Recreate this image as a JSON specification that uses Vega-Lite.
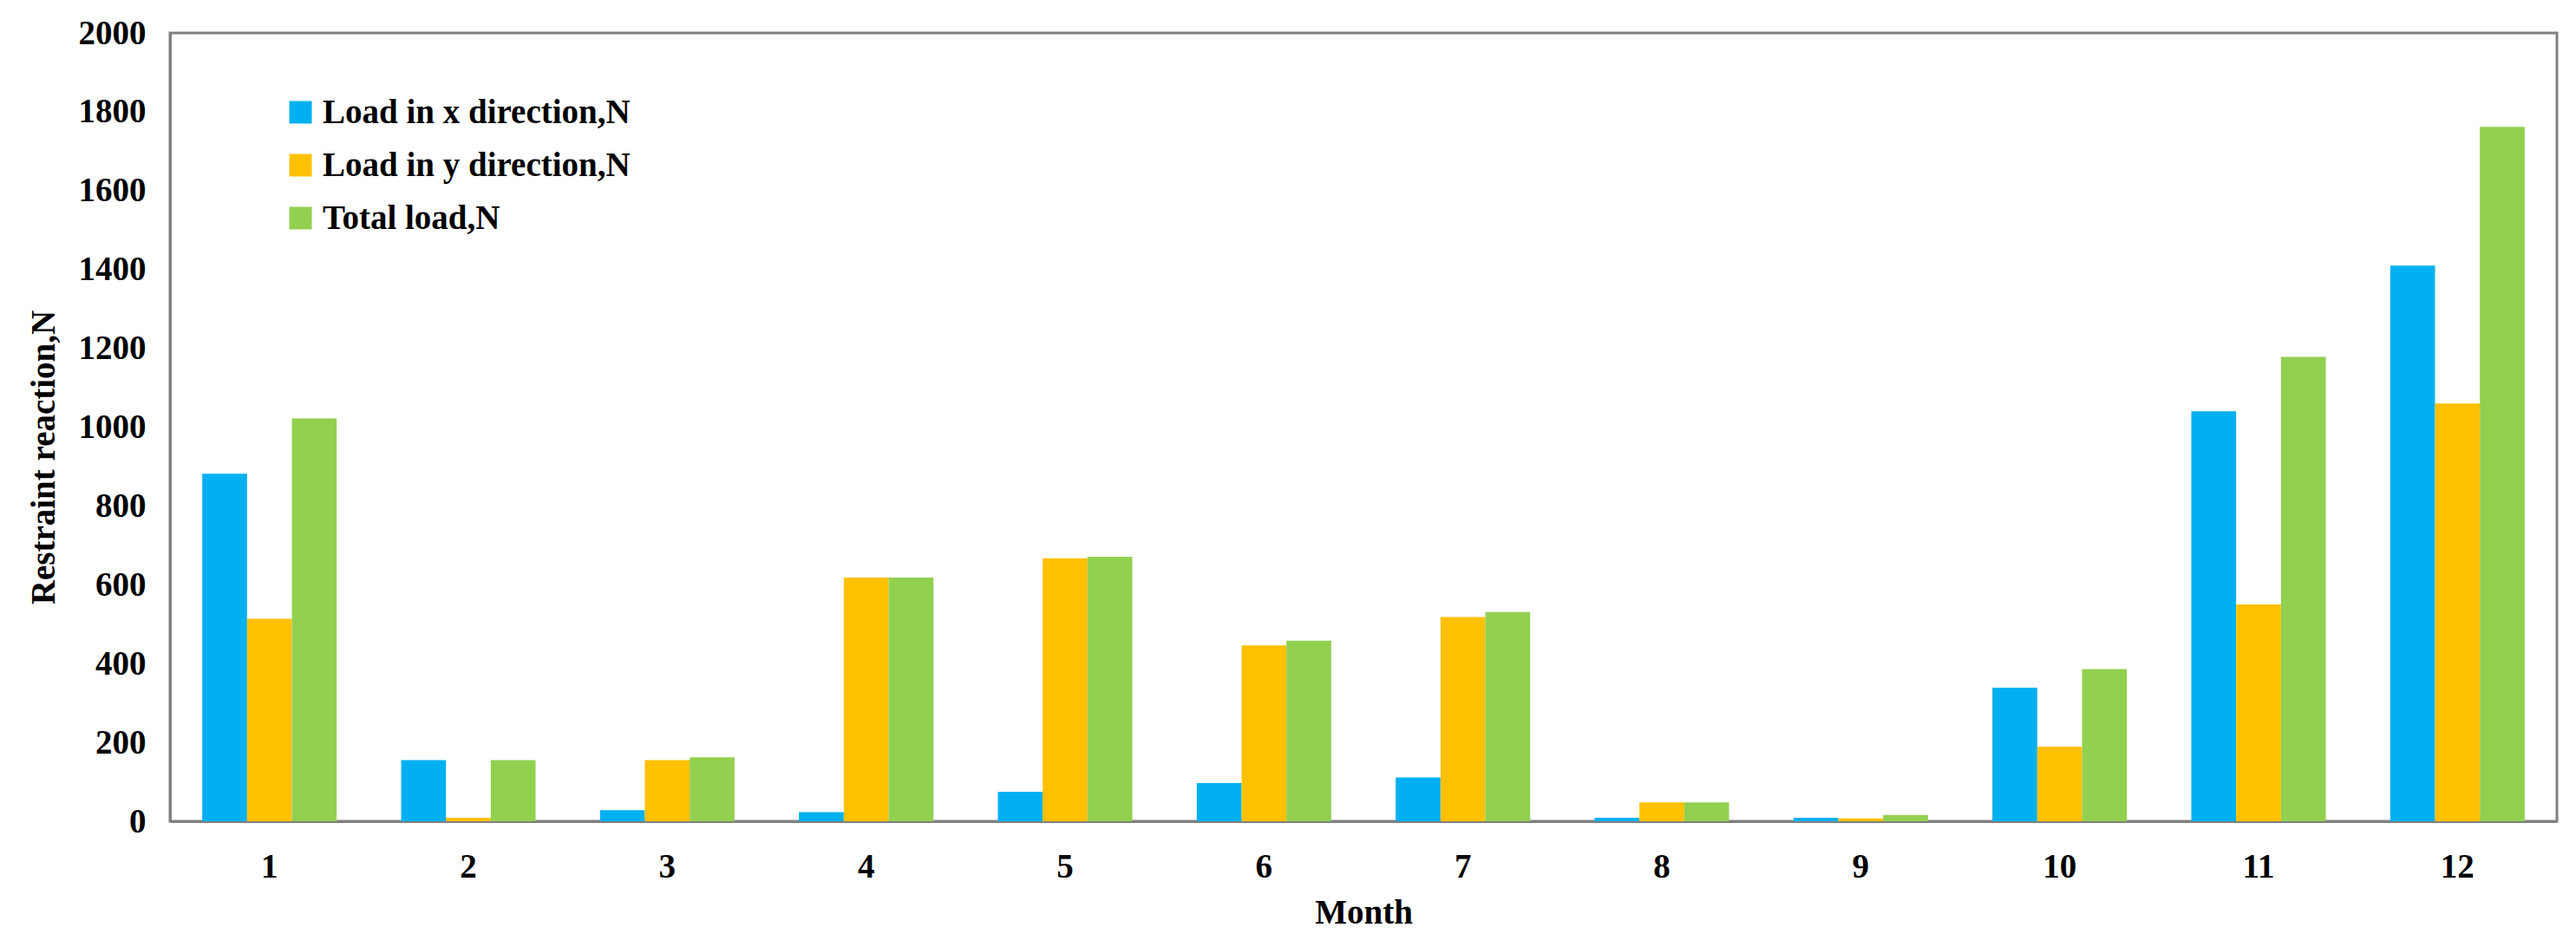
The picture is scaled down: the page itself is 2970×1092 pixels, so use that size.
{
  "$schema": "https://vega.github.io/schema/vega-lite/v6.json",
  "width": 2752,
  "height": 909,
  "autosize": {"type": "none"},
  "padding": {"left": 196, "top": 38, "right": 22, "bottom": 145},
  "background": "white",
  "config": {
    "font": "Liberation Serif",
    "view": {"stroke": "#808080", "strokeWidth": 3},
    "axis": {"grid": false, "ticks": false, "domainColor": "#808080", "domainWidth": 3,
      "labelFont": "Liberation Serif", "labelFontWeight": "bold", "labelFontSize": 39, "labelColor": "#000000",
      "titleFont": "Liberation Serif", "titleFontWeight": "bold", "titleFontSize": 39, "titleColor": "#000000"},
    "legend": {"labelFont": "Liberation Serif", "labelFontWeight": "bold", "labelFontSize": 39, "labelColor": "#000000"}
  },
  "data": {
    "values": [
      {"month": 1, "series": "Load in x direction,N", "value": 882},
      {"month": 1, "series": "Load in y direction,N", "value": 514},
      {"month": 1, "series": "Total load,N", "value": 1022},
      {"month": 2, "series": "Load in x direction,N", "value": 155},
      {"month": 2, "series": "Load in y direction,N", "value": 9},
      {"month": 2, "series": "Total load,N", "value": 155},
      {"month": 3, "series": "Load in x direction,N", "value": 28},
      {"month": 3, "series": "Load in y direction,N", "value": 155},
      {"month": 3, "series": "Total load,N", "value": 162},
      {"month": 4, "series": "Load in x direction,N", "value": 23},
      {"month": 4, "series": "Load in y direction,N", "value": 618},
      {"month": 4, "series": "Total load,N", "value": 618},
      {"month": 5, "series": "Load in x direction,N", "value": 75},
      {"month": 5, "series": "Load in y direction,N", "value": 667},
      {"month": 5, "series": "Total load,N", "value": 671},
      {"month": 6, "series": "Load in x direction,N", "value": 97},
      {"month": 6, "series": "Load in y direction,N", "value": 446},
      {"month": 6, "series": "Total load,N", "value": 458},
      {"month": 7, "series": "Load in x direction,N", "value": 111},
      {"month": 7, "series": "Load in y direction,N", "value": 518},
      {"month": 7, "series": "Total load,N", "value": 531},
      {"month": 8, "series": "Load in x direction,N", "value": 9},
      {"month": 8, "series": "Load in y direction,N", "value": 48},
      {"month": 8, "series": "Total load,N", "value": 48},
      {"month": 9, "series": "Load in x direction,N", "value": 9},
      {"month": 9, "series": "Load in y direction,N", "value": 7},
      {"month": 9, "series": "Total load,N", "value": 16},
      {"month": 10, "series": "Load in x direction,N", "value": 339},
      {"month": 10, "series": "Load in y direction,N", "value": 189},
      {"month": 10, "series": "Total load,N", "value": 386},
      {"month": 11, "series": "Load in x direction,N", "value": 1040},
      {"month": 11, "series": "Load in y direction,N", "value": 550},
      {"month": 11, "series": "Total load,N", "value": 1178},
      {"month": 12, "series": "Load in x direction,N", "value": 1410},
      {"month": 12, "series": "Load in y direction,N", "value": 1060},
      {"month": 12, "series": "Total load,N", "value": 1762}
    ]
  },
  "mark": {"type": "bar"},
  "encoding": {
    "x": {
      "field": "month", "type": "ordinal", "title": "Month",
      "scale": {"paddingInner": 0.324, "paddingOuter": 0.162},
      "axis": {"labelAngle": 0, "labelPadding": 33, "titlePadding": 14}
    },
    "xOffset": {
      "field": "series", "type": "nominal",
      "sort": ["Load in x direction,N", "Load in y direction,N", "Total load,N"],
      "scale": {"paddingInner": 0, "paddingOuter": 0}
    },
    "y": {
      "field": "value", "type": "quantitative", "title": "Restraint reaction,N",
      "scale": {"domain": [0, 2000], "nice": false},
      "axis": {"values": [0, 200, 400, 600, 800, 1000, 1200, 1400, 1600, 1800, 2000], "format": "d",
        "labelPadding": 28, "titleX": -126, "titleY": 489}
    },
    "color": {
      "field": "series", "type": "nominal",
      "scale": {"domain": ["Load in x direction,N", "Load in y direction,N", "Total load,N"],
        "range": ["#00B0F0", "#FFC000", "#92D050"]},
      "legend": {"title": null, "orient": "none", "legendX": 131, "legendY": 72,
        "symbolType": "square", "symbolSize": 676, "symbolStrokeWidth": 0,
        "rowPadding": 21, "labelOffset": 6, "labelLimit": 800}
    }
  }
}
